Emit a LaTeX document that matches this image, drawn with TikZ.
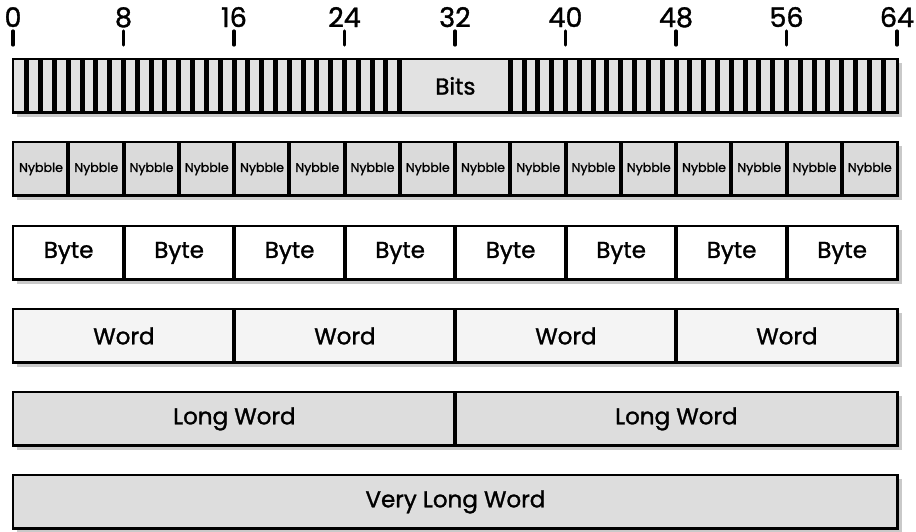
\documentclass[tikz,border=0pt]{standalone}
\usepackage{fontspec}
\setmainfont{Poppins}[FakeBold=1.3]
\usetikzlibrary{positioning,backgrounds}
\definecolor{bitfill}{HTML}{E2E2E2}
\definecolor{nybfill}{HTML}{DADADA}
\definecolor{wordfill}{HTML}{F4F4F4}
\definecolor{longfill}{HTML}{DDDDDD}
\definecolor{shadecol}{HTML}{C9C9C9}
\tikzset{x=0.5pt, y=-0.5pt,
cell/.style={inner sep=0pt, anchor=north west, minimum height=26.5pt, font=\fontsize{11.5}{13}\selectfont},
small/.style={font=\fontsize{6.3}{7}\selectfont},
sep/.style={line width=2pt},
bitsep/.style={line width=2.5pt},
frame/.style={draw, line width=1.4pt},
shade/.style={fill=shadecol},
tick/.style={line width=1.6pt, line cap=round},
scalelab/.style={font=\fontsize{13.5}{16}\selectfont, inner sep=0pt, anchor=base}}

\begin{document}
\begin{tikzpicture}
\useasboundingbox (0,0) rectangle (916,531);
\def\w{13.8125}

% Scale
\foreach \k in {0,...,8} {
  \pgfmathtruncatemacro{\b}{8*\k}
  \node[scalelab] (lab\k) at ({13+\k*8*\w},27) {\b};
  \coordinate (tk\k) at ({13+\k*8*\w},45);
  \draw[tick] ([shift={(0,4)}]lab\k.base) -- (tk\k);
}

% Bits
\foreach \i in {0,...,27}
  \node[cell, fill=bitfill, minimum width=\w*0.5pt] (bit\i) at ({13+\i*\w},59) {};
\node[cell, fill=bitfill, minimum width=8*\w*0.5pt] (bits) at ({13+28*\w},59) {Bits};
\foreach \i in {36,...,63}
  \node[cell, fill=bitfill, minimum width=\w*0.5pt] (bit\i) at ({13+\i*\w},59) {};
\foreach \i in {1,...,27,36,37,...,63}
  \draw[bitsep] (bit\i.north west) -- (bit\i.south west);
\draw[bitsep] (bits.north west) -- (bits.south west);
\draw[frame] (bit0.north west) rectangle (bit63.south east);

% Nybbles
\foreach \i in {0,...,15}
  \node[cell, small, fill=nybfill, minimum width=4*\w*0.5pt] (nyb\i) at ({13+4*\i*\w},142) {Nybble};
\foreach \i in {1,...,15}
  \draw[sep] (nyb\i.north west) -- (nyb\i.south west);
\draw[frame] (nyb0.north west) rectangle (nyb15.south east);

% Bytes
\foreach \i in {0,...,7}
  \node[cell, fill=white, minimum width=8*\w*0.5pt] (byte\i) at ({13+8*\i*\w},226) {Byte};
\foreach \i in {1,...,7}
  \draw[sep] (byte\i.north west) -- (byte\i.south west);
\draw[frame] (byte0.north west) rectangle (byte7.south east);

% Words
\foreach \i in {0,...,3}
  \node[cell, fill=wordfill, minimum width=16*\w*0.5pt] (word\i) at ({13+16*\i*\w},309) {Word};
\foreach \i in {1,...,3}
  \draw[sep] (word\i.north west) -- (word\i.south west);
\draw[frame] (word0.north west) rectangle (word3.south east);

% Long words
\foreach \i in {0,1}
  \node[cell, fill=longfill, minimum width=32*\w*0.5pt] (long\i) at ({13+32*\i*\w},392) {Long Word};
\draw[sep] (long1.north west) -- (long1.south west);
\draw[frame] (long0.north west) rectangle (long1.south east);

% Very long word
\node[cell, fill=longfill, minimum width=64*\w*0.5pt] (vlong) at (13,475) {Very Long Word};
\draw[frame] (vlong.north west) rectangle (vlong.south east);

% Shadows
\begin{scope}[on background layer]
\foreach \a/\b in {bit0/bit63, nyb0/nyb15, byte0/byte7, word0/word3, long0/long1, vlong/vlong}
  \fill[shade] ([shift={(4,4)}]\a.north west) rectangle ([shift={(4,4)}]\b.south east);
\end{scope}
\end{tikzpicture}
\end{document}
